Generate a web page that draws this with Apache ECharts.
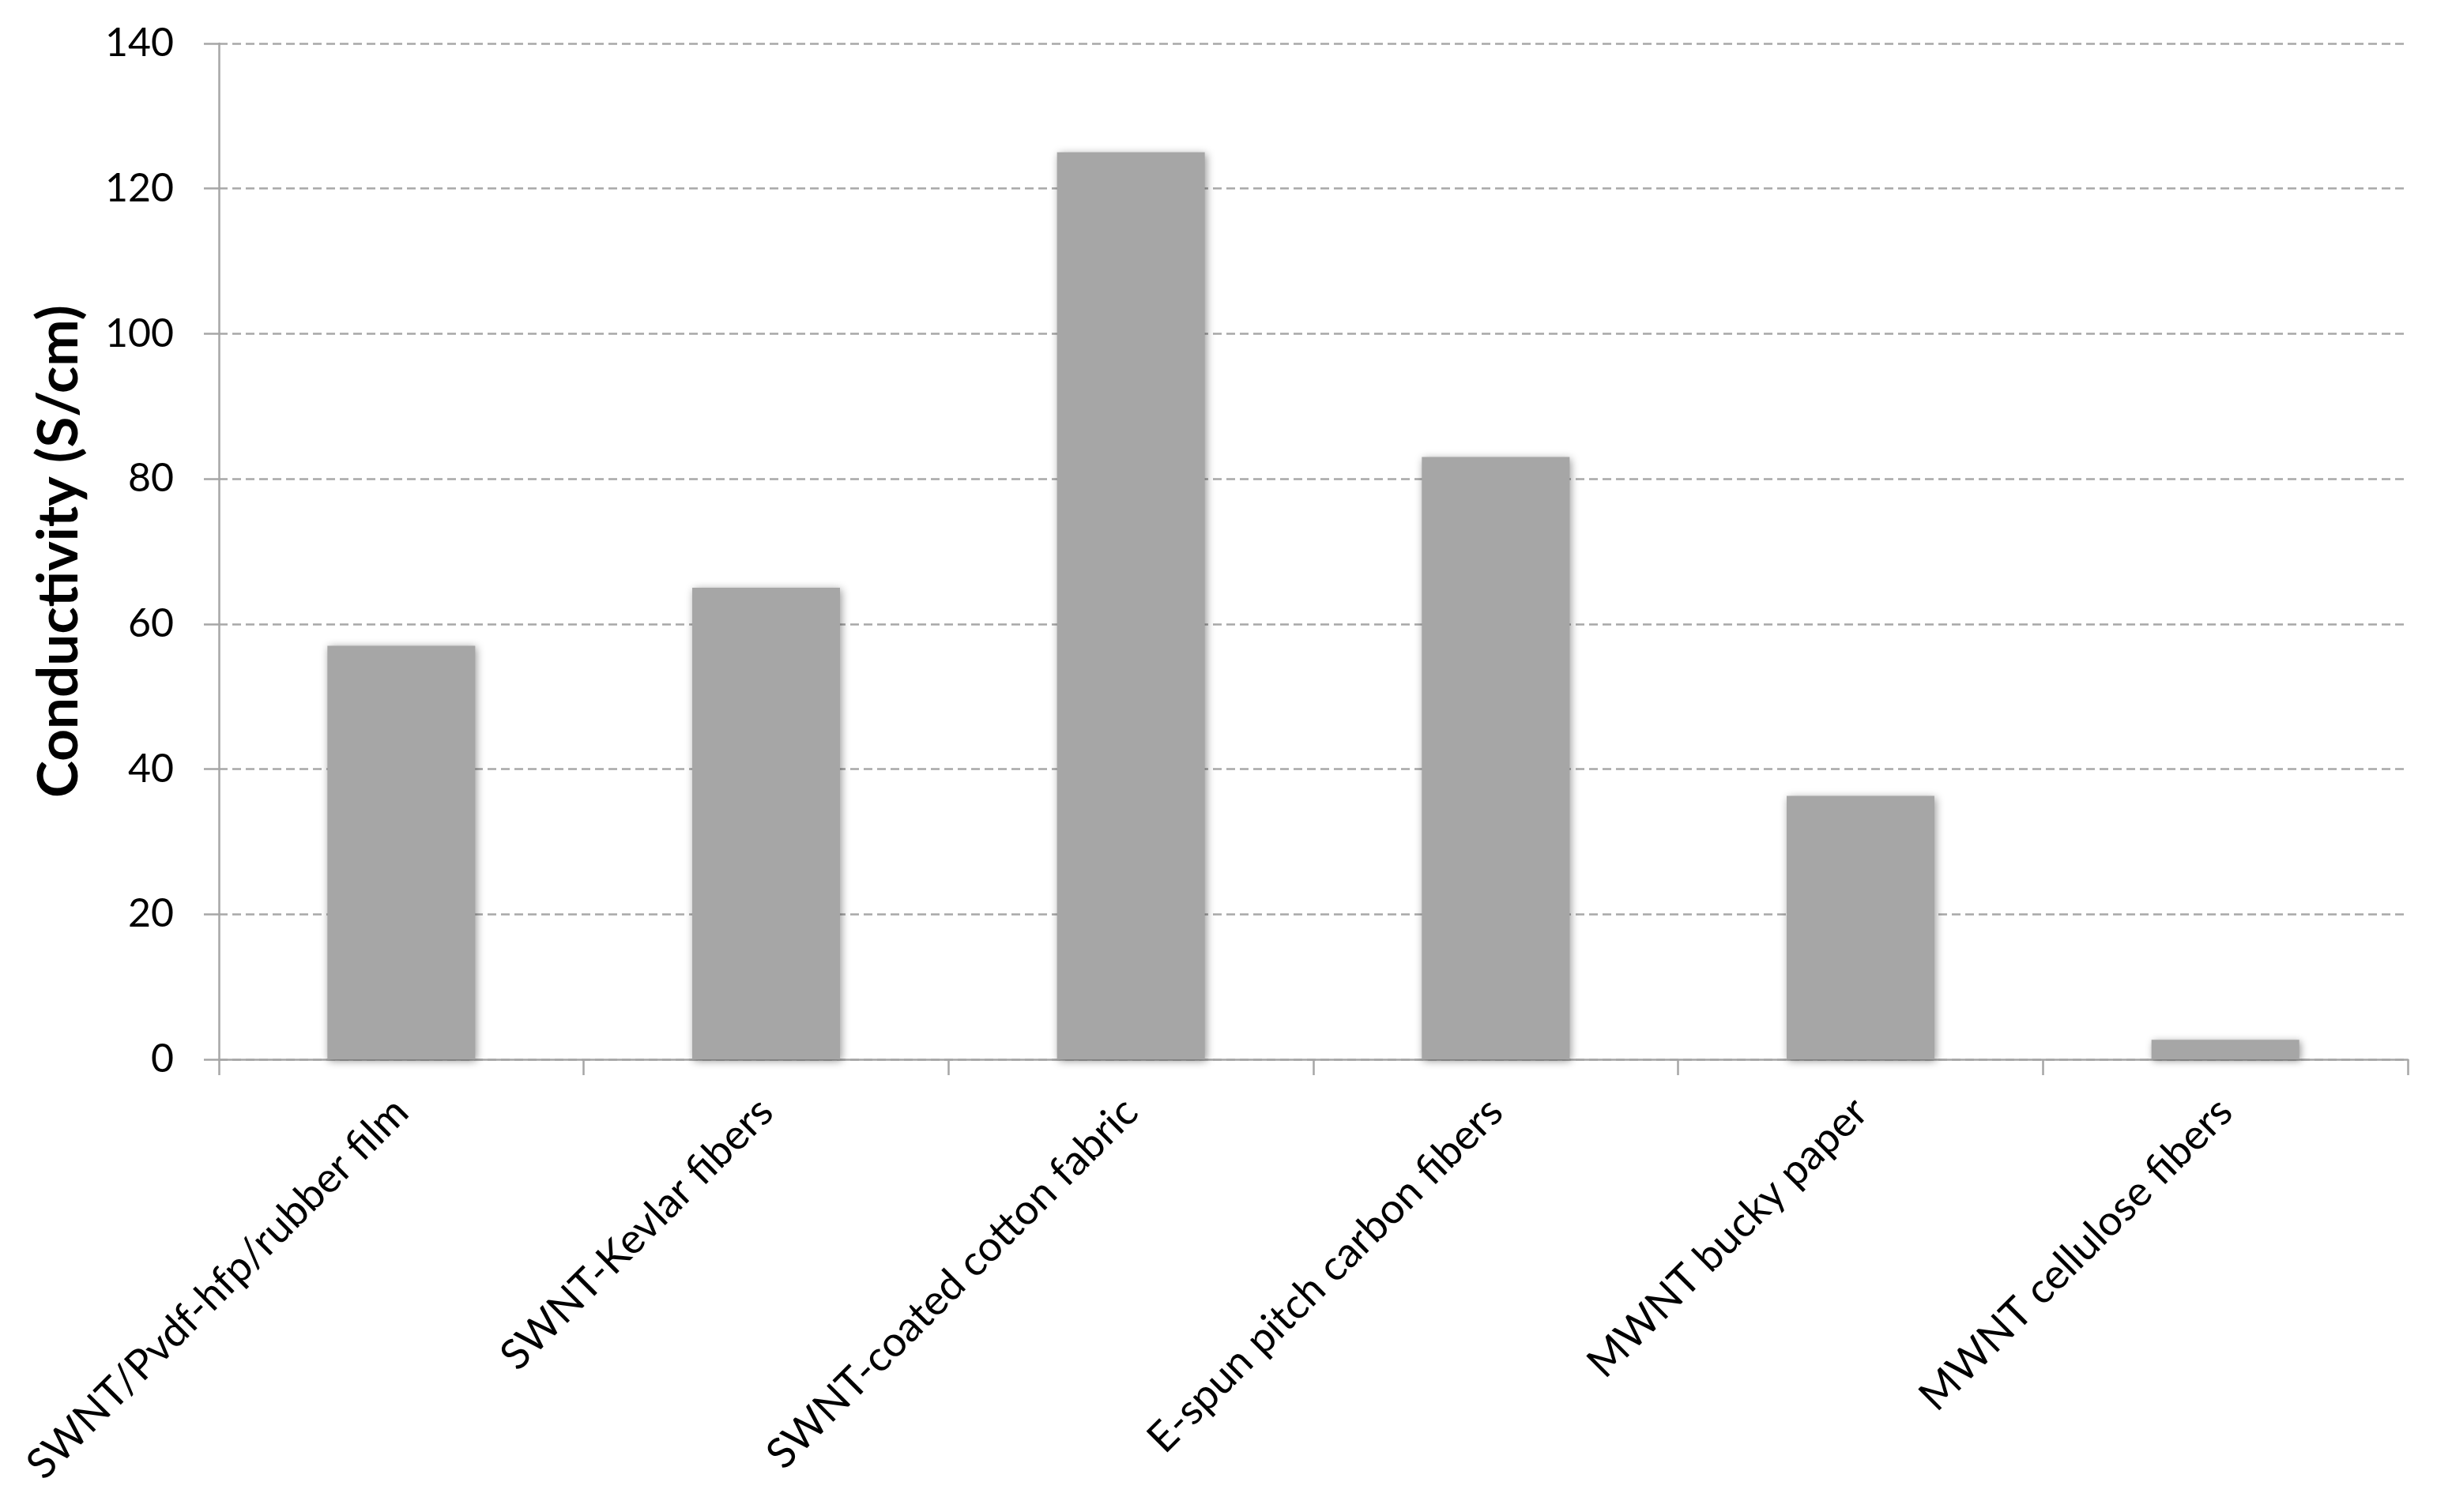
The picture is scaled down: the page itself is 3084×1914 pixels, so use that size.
<!DOCTYPE html>
<html>
<head>
<meta charset="utf-8">
<script src="https://cdn.jsdelivr.net/npm/echarts@6/dist/echarts.min.js"></script>
<style>
  html, body { margin: 0; padding: 0; background: #ffffff; }
  #chart { width: 3084px; height: 1914px; }
</style>
</head>
<body>
<div id="chart"></div>
<script>
// categories and values
const categories = [
  "SWNT/Pvdf-hfp/rubber film",
  "SWNT-Kevlar fibers",
  "SWNT-coated cotton fabric",
  "E-spun pitch carbon fibers",
  "MWNT bucky paper",
  "MWNT cellulose fibers",
];
const conductivity = [57, 65, 125, 83, 36.3, 2.7];
const yTicks = { min: 0, max: 140, interval: 20 };

const fontFamily = "Lato, 'DejaVu Sans', sans-serif";
const axisGrey = "#a6a6a6";

const option = {
  backgroundColor: "#ffffff",
  animation: false,
  grid: {
    left: 277,
    right: 37,
    top: 55,
    bottom: 573,
  },
  xAxis: {
    type: "category",
    data: categories,
    boundaryGap: true,
    axisLine: { lineStyle: { color: axisGrey, width: 2.5 } },
    axisTick: { show: true, length: 20, alignWithLabel: false, lineStyle: { color: axisGrey, width: 2.5 } },
    axisLabel: {
      rotate: 45,
      interval: 0,
      margin: 58,
      color: "#000000",
      fontFamily: fontFamily,
      fontSize: 53,
    },
  },
  yAxis: {
    type: "value",
    min: yTicks.min,
    max: yTicks.max,
    interval: yTicks.interval,
    name: "Conductivity (S/cm)",
    nameLocation: "middle",
    nameRotate: 90,
    nameGap: 166,
    nameTextStyle: {
      color: "#000000",
      fontFamily: fontFamily,
      fontSize: 71,
      fontWeight: "bold",
    },
    axisLine: { show: true, lineStyle: { color: axisGrey, width: 2.5 } },
    axisTick: { show: true, length: 19, lineStyle: { color: axisGrey, width: 2.5 } },
    axisLabel: {
      margin: 57,
      color: "#000000",
      fontFamily: fontFamily,
      fontSize: 50,
    },
    splitLine: {
      show: true,
      lineStyle: { color: "#a8a8a8", width: 2.5, type: [11, 6] },
    },
  },
  series: [
    {
      type: "bar",
      data: conductivity,
      barWidth: "40.5%",
      itemStyle: {
        color: "#a6a6a6",
        shadowBlur: 10,
        shadowColor: "rgba(0,0,0,0.4)",
        shadowOffsetX: 2,
        shadowOffsetY: 2,
      },
    },
  ],
};

const chart = echarts.init(document.getElementById("chart"));
chart.setOption(option);
</script>
</body>
</html>
